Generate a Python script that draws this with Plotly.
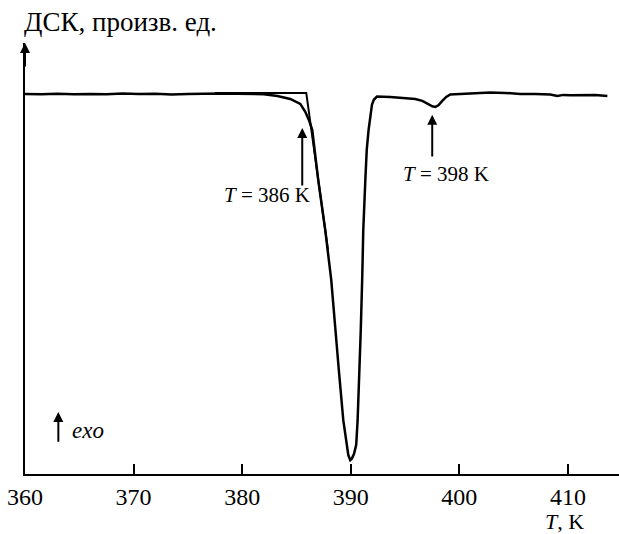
import plotly.graph_objects as go

# DSC curve (temperature in K, signal in arbitrary units, exo up)
T_dsc = [360.0, 361.5, 363.0, 364.5, 366.0, 367.5, 369.0, 370.5, 372.0, 373.5,
         375.0, 376.5, 378.0, 379.5, 381.0, 382.0, 383.24, 384.43, 385.35, 385.81,
         386.18, 386.45, 387.0, 387.65, 388.2, 388.57, 388.9, 389.31, 389.59, 389.77,
         389.95, 390.1, 390.3, 390.5, 390.63, 390.83, 390.92, 391.06, 391.15, 391.34,
         391.47, 391.64, 391.8, 391.95, 392.12, 392.41, 393.64, 395.02, 395.94, 396.59,
         397.14, 397.51, 397.79, 398.07, 398.43, 398.79, 399.16, 400.08, 401.46, 402.84,
         404.22, 405.6, 406.99, 408.37, 409.02, 409.57, 410.21, 411.6, 412.52, 413.63]
DSC = [0.0, -0.1, 0.05, -0.12, 0.0, -0.1, 0.1, -0.05, 0.05, -0.15,
       0.0, 0.1, 0.12, 0.05, 0.0, -0.1, -0.55, -1.37, -2.73, -4.9,
       -7.4, -9.8, -23.5, -37.2, -50.8, -64.5, -75.4, -89.1, -95.9, -98.6,
       -100.0, -99.6, -98.3, -95.8, -89.1, -75.4, -64.5, -49.5, -37.2, -23.5,
       -15.3, -9.8, -5.7, -3.0, -1.6, -0.74, -0.82, -1.1, -1.37, -1.9,
       -2.73, -3.4, -3.55, -3.1, -1.9, -0.82, -0.14, 0.0, 0.14, 0.35,
       0.27, 0.0, 0.0, -0.14, -0.55, -0.27, -0.4, -0.2, -0.27, -0.55]

# Tangent construction for onset temperature
T_tan = [377.5, 385.9, 387.9]
DSC_tan = [0.27, 0.27, -42.6]

x_ticks = [360, 370, 380, 390, 400, 410]
x_range = [360, 414.7]
y_range = [-103.8, 13.9]

FONT = "Liberation Serif, Times New Roman, serif"

fig = go.Figure()
fig.add_trace(go.Scatter(x=T_dsc, y=DSC, mode="lines",
                         line=dict(color="black", width=2.5), hoverinfo="skip"))
fig.add_trace(go.Scatter(x=T_tan, y=DSC_tan, mode="lines",
                         line=dict(color="black", width=2), hoverinfo="skip"))

ann = []
# y-axis arrowhead
ann.append(dict(x=360, y=y_range[1], xref="x", yref="y", ax=0, ay=25,
                showarrow=True, arrowhead=2, arrowsize=1, arrowwidth=2,
                arrowcolor="black", text=""))
# onset arrows
ann.append(dict(x=385.53, y=-9.3, xref="x", yref="y", axref="x", ayref="y",
                ax=385.53, ay=-25.4, showarrow=True, arrowhead=2, arrowsize=1,
                arrowwidth=2, arrowcolor="black", text=""))
ann.append(dict(x=397.5, y=-5.7, xref="x", yref="y", axref="x", ayref="y",
                ax=397.5, ay=-17.5, showarrow=True, arrowhead=2, arrowsize=1,
                arrowwidth=2, arrowcolor="black", text=""))
ann.append(dict(x=382.24, y=-27.6, xref="x", yref="y", showarrow=False,
                text="<i>T</i> = 386 K", font=dict(family=FONT, size=21, color="black")))
ann.append(dict(x=398.75, y=-21.9, xref="x", yref="y", showarrow=False,
                text="<i>T</i> = 398 K", font=dict(family=FONT, size=21, color="black")))
# exo arrow
ann.append(dict(x=363.07, y=-86.9, xref="x", yref="y", axref="x", ayref="y",
                ax=363.07, ay=-95.4, showarrow=True, arrowhead=2, arrowsize=1,
                arrowwidth=2, arrowcolor="black", text=""))
ann.append(dict(x=364.17, y=-91.8, xref="x", yref="y", showarrow=False, xanchor="left",
                text="<i>exo</i>", font=dict(family=FONT, size=23, color="black")))
# axis titles
ann.append(dict(x=-0.005, y=1.049, xref="paper", yref="paper", showarrow=False,
                xanchor="left", yanchor="middle", text="ДСК, произв. ед.",
                font=dict(family=FONT, size=27, color="black")))
ann.append(dict(x=0.909, y=-0.11, xref="paper", yref="paper", showarrow=False,
                xanchor="center", yanchor="middle", text="<i>T</i>, K",
                font=dict(family=FONT, size=22, color="black")))

fig.update_layout(
    width=619, height=534,
    margin=dict(l=25, r=0, t=43, b=60),
    plot_bgcolor="white", paper_bgcolor="white",
    showlegend=False,
    annotations=ann,
    xaxis=dict(range=x_range, tickvals=x_ticks, ticks="inside", ticklen=10,
               tickwidth=2, tickcolor="black", showline=True, linewidth=2,
               linecolor="black", showgrid=False, zeroline=False,
               ticklabelstandoff=0,
               tickfont=dict(family=FONT, size=24, color="black")),
    yaxis=dict(range=y_range, showticklabels=False, ticks="", showline=True,
               linewidth=2, linecolor="black", showgrid=False, zeroline=False),
)

fig.write_html("out.html")
